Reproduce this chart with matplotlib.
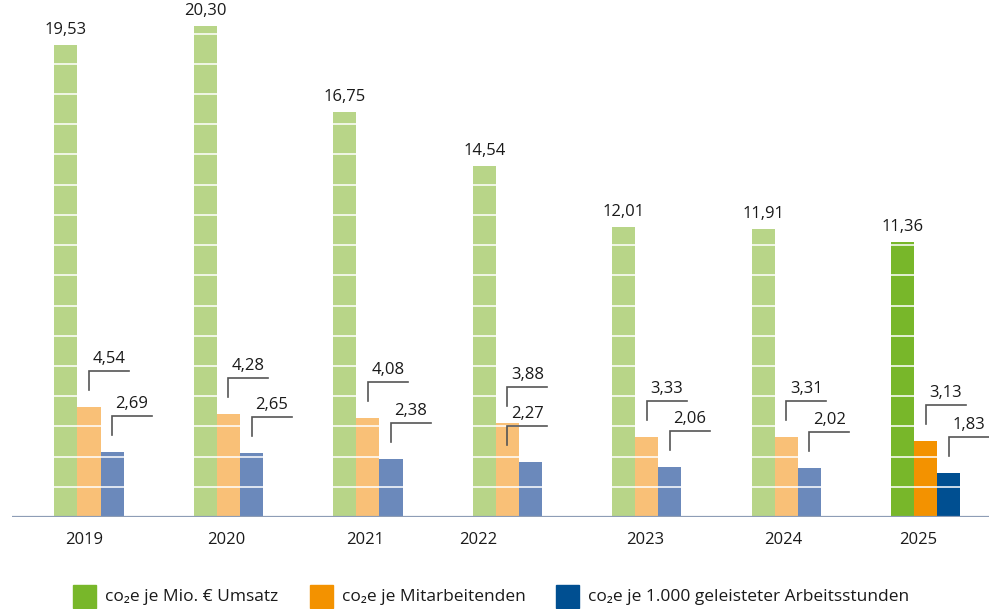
import numpy as np
import matplotlib
matplotlib.use("Agg")
import matplotlib.pyplot as plt
from matplotlib.patches import Rectangle

# data
years = ["2019", "2020", "2021", "2022", "2023", "2024", "2025"]
umsatz = [19.53, 20.30, 16.75, 14.54, 12.01, 11.91, 11.36]
mitarbeiter = [4.54, 4.28, 4.08, 3.88, 3.33, 3.31, 3.13]
arbeitsstunden = [2.69, 2.65, 2.38, 2.27, 2.06, 2.02, 1.83]
series_names = ["co\u2082e je Mio. \u20ac Umsatz", "co\u2082e je Mitarbeitenden",
                "co\u2082e je 1.000 geleisteter Arbeitsstunden"]

light = ["#b8d588", "#f9c077", "#6b89bb"]
dark = ["#78b72a", "#f39200", "#004f91"]

plt.rcParams['font.family'] = ['Open Sans', 'DejaVu Sans']

fig = plt.figure(figsize=(9.89, 6.09), dpi=100)
ax = fig.add_axes([12 / 989, 1 - 517 / 609, 1 - 12 / 989, 517 / 609])

x = np.arange(len(years))
w = 0.165
ax.set_xlim(-0.552, 6.452)
ax.set_ylim(0, 21.39)

# pixel -> data scale
px = 7.004 / 977
py = 21.39 / 517

allvals = [umsatz, mitarbeiter, arbeitsstunden]
offs = [-w, 0, w]
for s, vals in enumerate(allvals):
    cols = [light[s]] * (len(years) - 1) + [dark[s]]
    ax.bar(x + offs[s], vals, width=w, color=cols, zorder=2)

# white stripes over the bars
for yy in np.arange(1.25, 21.3, 1.25):
    ax.axhline(yy, color="white", lw=1.3, alpha=0.85, zorder=3)

ax.axhline(0, color="#8e9db6", lw=1.6, zorder=4)

# green value labels
for i, v in enumerate(umsatz):
    ax.text(x[i] - w, v + 7 * py, f"{v:.2f}".replace(".", ","),
            ha="center", va="bottom", fontsize=12, color="#1a1a1a")

# bracket labels for the two small series
label_dx = {(2, 3): -w}
for s in (1, 2):
    for i, v in enumerate(allvals[s]):
        bx = x[i] + offs[s] + label_dx.get((s, i), 0)
        y0 = v + 17 * py
        y1 = v + 36 * py
        ax.plot([bx, bx, bx + 40 * px], [y0, y1, y1], color="#555555",
                lw=1.2, zorder=5, solid_joinstyle="miter")
        ax.text(bx + 20 * px, y1 + 4 * py, f"{v:.2f}".replace(".", ","),
                ha="center", va="bottom", fontsize=12, color="#1a1a1a")

tick_shift = [-0.035, -0.015, -0.02, -0.21, -0.01, -0.02, -0.055]
ax.set_xticks(x + np.array(tick_shift))
ax.set_xticklabels(years, fontsize=12, color="#1a1a1a")
ax.tick_params(axis="x", length=0, pad=11)
ax.set_yticks([])
for sp in ax.spines.values():
    sp.set_visible(False)

# legend, drawn by hand to match the spacing of the original
leg_x = [73, 310, 556]
for lx, c, name in zip(leg_x, dark, series_names):
    fig.add_artist(Rectangle((lx / 989, 1 - 608 / 609), 23 / 989, 23 / 609,
                             transform=fig.transFigure, color=c))
    fig.text((lx + 32) / 989, 1 - 597 / 609, name, va="center", ha="left",
             fontsize=12.5, color="#1a1a1a")

fig.savefig("out.png", dpi=100)
